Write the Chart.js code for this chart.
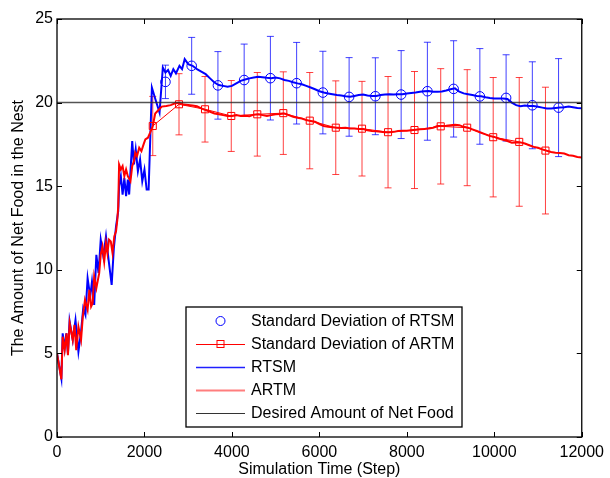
<!DOCTYPE html>
<html>
<head>
<meta charset="utf-8">
<script src="https://cdn.jsdelivr.net/npm/chart.js@4.4.1/dist/chart.umd.min.js"></script>
<style>
  html, body { margin: 0; padding: 0; background: #fff; }
</style>
</head>
<body>
<canvas id="foodChart" width="610" height="478"></canvas>
<script>
// Net food in the nest, RTSM vs ARTM

const xTicks = [0, 2000, 4000, 6000, 8000, 10000, 12000];
const yTicks = [0, 5, 10, 15, 20, 25];

const seriesLabels = [
    'Standard Deviation of RTSM',
    'Standard Deviation of ARTM',
    'RTSM',
    'ARTM',
    'Desired Amount of Net Food'
];

// RTSM mean curve
const rtsmX = [0, 100, 130, 175, 212, 250, 287, 360, 423, 490, 550, 600, 650, 700, 760, 800, 850, 900, 950,
    1000, 1060, 1120, 1180, 1250, 1300, 1350, 1400, 1420, 1460, 1500, 1540, 1580, 1620, 1650, 1720, 1760,
    1800, 1850, 1900, 1950, 2000, 2050, 2095, 2170, 2250, 2345, 2420, 2480, 2540, 2600, 2660, 2720, 2800,
    2860, 2920, 3000, 3100, 3200, 3300, 3400, 3500, 3600, 3700, 3800, 3900, 4000, 4100, 4200, 4300, 4400,
    4500, 4600, 4700, 4800, 4900, 5000, 5100, 5200, 5300, 5400, 5500, 5600, 5700, 5800, 5900, 6000, 6100,
    6200, 6300, 6400, 6500, 6600, 6700, 6800, 6900, 7000, 7100, 7200, 7300, 7400, 7500, 7600, 7700, 7800,
    7900, 8000, 8100, 8200, 8300, 8400, 8500, 8600, 8700, 8800, 8900, 9000, 9100, 9200, 9300, 9400, 9500,
    9600, 9700, 9800, 9900, 10000, 10100, 10200, 10300, 10400, 10500, 10600, 10700, 10800, 10900, 11000,
    11100, 11200, 11300, 11400, 11500, 11600, 11700, 11800, 11900, 12000];
const rtsmY = [5.0, 3.5, 6.2, 5.3, 6.2, 5.0, 6.95, 5.8, 7.0, 5.1, 6.3, 7.7, 7.3, 9.5, 8.4, 9.3, 7.9, 10.9, 9.8,
    11.8, 10.8, 12.0, 10.6, 9.1, 11.3, 12.6, 13.5, 15.0, 15.6, 14.5, 15.5, 14.4, 15.4, 14.5, 17.7, 16.3,
    17.2, 15.9, 16.6, 15.3, 16.0, 14.8, 14.8, 20.9, 20.2, 19.4, 22.1, 21.8, 21.95, 21.6, 22.0, 21.75, 22.2,
    22.0, 22.6, 22.3, 22.2, 22.0, 21.85, 21.7, 21.45, 21.2, 21.05, 21.0, 20.95, 21.0, 21.15, 21.3, 21.38, 21.45,
    21.5, 21.55, 21.52, 21.48, 21.45, 21.5, 21.45, 21.35, 21.3, 21.22, 21.15, 21.1, 21.0, 20.9, 20.8, 20.68, 20.6,
    20.55, 20.5, 20.45, 20.42, 20.38, 20.35, 20.4, 20.45, 20.48, 20.42, 20.4, 20.4, 20.45, 20.48, 20.5, 20.48, 20.5,
    20.5, 20.55, 20.58, 20.6, 20.65, 20.68, 20.7, 20.65, 20.65, 20.66, 20.72, 20.8, 20.85, 20.65, 20.55, 20.5, 20.45,
    20.4, 20.38, 20.32, 20.28, 20.25, 20.25, 20.25, 20.22, 20.0, 19.85, 19.78, 19.82, 19.8, 19.8, 19.75,
    19.7, 19.65, 19.65, 19.68, 19.7, 19.72, 19.76, 19.72, 19.68, 19.66];

// ARTM mean curve
const artmX = [0, 100, 130, 175, 220, 250, 290, 360, 400, 440, 490, 550, 590, 640, 700, 740, 780, 815, 850, 900,
    965, 1000, 1040, 1080, 1120, 1153, 1190, 1230, 1270, 1310, 1350, 1380, 1400, 1420, 1460, 1500, 1540, 1580,
    1620, 1680, 1720, 1760, 1790, 1830, 1880, 1930, 1980, 2020, 2080, 2130, 2190, 2246, 2300, 2395, 2500, 2600,
    2700, 2800, 2900, 3000, 3100, 3200, 3300, 3400, 3500, 3600, 3700, 3800, 3900, 4000, 4100, 4200, 4300, 4400,
    4500, 4600, 4700, 4800, 4900, 5000, 5100, 5200, 5300, 5400, 5500, 5600, 5700, 5800, 5900, 6000, 6100, 6200,
    6300, 6400, 6500, 6600, 6700, 6800, 6900, 7000, 7100, 7200, 7300, 7400, 7500, 7600, 7700, 7800, 7900, 8000,
    8100, 8200, 8300, 8400, 8500, 8600, 8700, 8800, 8900, 9000, 9100, 9200, 9300, 9400, 9500, 9600, 9700, 9800,
    9900, 10000, 10100, 10200, 10300, 10400, 10500, 10600, 10700, 10800, 10900, 11000, 11100, 11200, 11300,
    11400, 11500, 11600, 11700, 11800, 11900, 12000];
const artmY = [5.0, 3.45, 6.0, 5.2, 6.2, 4.9, 6.8, 5.8, 6.7, 5.2, 6.6, 5.8, 7.2, 8.2, 7.6, 8.8, 7.8, 8.0, 9.6, 8.9,
    9.8, 10.9, 11.4, 10.5, 11.6, 11.0, 11.8, 11.7, 11.0, 12.0, 12.3, 13.0, 13.8, 16.3, 16.0, 16.2, 15.6, 16.0,
    15.6, 15.3, 16.2, 16.5, 17.0, 16.8, 17.3, 17.1, 17.5, 17.8, 17.9, 18.2, 18.6, 19.35, 19.5, 19.76, 19.8, 19.85,
    19.96, 19.98, 19.88, 19.85, 19.82, 19.78, 19.65, 19.55, 19.45, 19.35, 19.3, 19.25, 19.2, 19.2, 19.25, 19.2, 19.22, 19.18,
    19.28, 19.3, 19.25, 19.2, 19.25, 19.3, 19.32, 19.35, 19.25, 19.15, 19.1, 19.05, 18.95, 18.9, 18.85, 18.72, 18.6, 18.55,
    18.52, 18.5, 18.48, 18.5, 18.45, 18.45, 18.42, 18.42, 18.35, 18.3, 18.28, 18.25, 18.22, 18.22, 18.25, 18.3, 18.32, 18.32,
    18.35, 18.38, 18.4, 18.42, 18.45, 18.5, 18.6, 18.6, 18.62, 18.65, 18.68, 18.65, 18.55, 18.5, 18.4, 18.3, 18.2, 18.1,
    18.0, 17.95, 17.85, 17.78, 17.7, 17.6, 17.62, 17.62, 17.55, 17.45, 17.35, 17.3, 17.2, 17.12, 17.05,
    17.0, 16.98, 16.95, 16.85, 16.82, 16.75, 16.72];

// standard deviation samples (circle / square markers)
const rtsmSdX = [2480, 3080, 3680, 4280, 4880, 5480, 6080, 6680, 7280, 7870, 8470, 9070, 9670, 10270, 10870, 11470];
const rtsmSdMean = [21.24, 22.2, 21.03, 21.35, 21.46, 21.16, 20.6, 20.34, 20.38, 20.48, 20.68, 20.82, 20.37, 20.28, 19.84, 19.7];
const rtsmSd = [1.0, 1.7, 2.02, 2.15, 2.5, 2.44, 2.47, 2.35, 2.3, 2.63, 2.93, 2.88, 2.86, 2.58, 2.6, 2.93];

const artmSdX = [2190, 2790, 3385, 3985, 4580, 5175, 5780, 6375, 6975, 7570, 8175, 8775, 9380, 9975, 10570, 11170];
const artmSdMean = [18.6, 19.9, 19.6, 19.2, 19.3, 19.37, 18.92, 18.5, 18.44, 18.23, 18.36, 18.58, 18.5, 17.93, 17.65, 17.13];
const artmSd = [1.77, 1.83, 1.96, 2.12, 2.5, 2.47, 2.88, 2.8, 2.83, 3.33, 3.5, 3.45, 3.47, 3.57, 3.85, 3.79];

const desiredX = [0, 12000];
const desiredY = [20, 20];

const BLUE = '#0000ff';
const RED = '#ff0000';
const FONT = "'Liberation Sans', Arial, Helvetica, sans-serif";

function toPoints(xs, ys) {
    return xs.map((x, i) => ({x: x, y: ys[i]}));
}

// lo / hi pairs, broken by a null so each bar is its own segment
function errorBarPoints(xs, mean, sd) {
    const pts = [];
    xs.forEach((x, i) => {
        pts.push({x: x, y: mean[i] - sd[i]}, {x: x, y: mean[i] + sd[i]}, {x: x, y: null});
    });
    return pts;
}

const TICK = 5;

const frameAndTicks = {
    id: 'frameAndTicks',
    afterDatasetsDraw(chart) {
        const {ctx, chartArea: a, scales: {x, y}} = chart;
        ctx.save();
        ctx.strokeStyle = '#000';
        ctx.lineWidth = 1;
        ctx.beginPath();
        xTicks.forEach(v => {
            const px = Math.round(x.getPixelForValue(v)) + 0.5;
            ctx.moveTo(px, a.bottom);
            ctx.lineTo(px, a.bottom - TICK);
            ctx.moveTo(px, a.top);
            ctx.lineTo(px, a.top + TICK);
        });
        yTicks.forEach(v => {
            const py = Math.round(y.getPixelForValue(v)) + 0.5;
            ctx.moveTo(a.left, py);
            ctx.lineTo(a.left + TICK, py);
            ctx.moveTo(a.right, py);
            ctx.lineTo(a.right - TICK, py);
        });
        ctx.stroke();
        ctx.lineWidth = 1.3;
        ctx.strokeRect(a.left, a.top, a.right - a.left, a.bottom - a.top);
        ctx.restore();
    }
};

// legend box drawn inside the plot, MATLAB style
const boxLegend = {
    id: 'boxLegend',
    afterDraw(chart) {
        const ctx = chart.ctx;
        const box = {left: 186, top: 307, right: 462, bottom: 427};
        const rowY = [321, 344, 367, 390, 413];
        const lineL = 196, lineR = 245, mid = 220.5, textX = 251;

        ctx.save();
        ctx.fillStyle = '#fff';
        ctx.fillRect(box.left, box.top, box.right - box.left, box.bottom - box.top);
        ctx.strokeStyle = '#000';
        ctx.lineWidth = 1.3;
        ctx.strokeRect(box.left, box.top, box.right - box.left, box.bottom - box.top);

        // row 1: circle only
        ctx.strokeStyle = BLUE;
        ctx.lineWidth = 1;
        ctx.beginPath();
        ctx.arc(mid, rowY[0], 4.5, 0, Math.PI * 2);
        ctx.stroke();

        // row 2: line + square
        ctx.strokeStyle = RED;
        ctx.beginPath();
        ctx.moveTo(lineL, rowY[1] + 0.5);
        ctx.lineTo(lineR, rowY[1] + 0.5);
        ctx.stroke();
        ctx.strokeRect(mid - 3.5, rowY[1] - 3.5, 7, 7);

        const plainLines = [
            {row: 2, color: '#2020ff', width: 1.4},
            {row: 3, color: 'rgba(255,40,40,0.6)', width: 2.2},
            {row: 4, color: '#333', width: 1}
        ];
        plainLines.forEach(l => {
            ctx.strokeStyle = l.color;
            ctx.lineWidth = l.width;
            ctx.beginPath();
            ctx.moveTo(lineL, rowY[l.row] + 0.5);
            ctx.lineTo(lineR, rowY[l.row] + 0.5);
            ctx.stroke();
        });

        ctx.fillStyle = '#000';
        ctx.font = '16px ' + FONT;
        ctx.textBaseline = 'middle';
        ctx.textAlign = 'left';
        seriesLabels.forEach((label, i) => {
            ctx.fillText(label, textX, rowY[i] + 1);
        });
        ctx.restore();
    }
};

const ctx = document.getElementById('foodChart').getContext('2d');

new Chart(ctx, {
    type: 'line',
    data: {
        datasets: [
            {
                label: seriesLabels[4],
                data: toPoints(desiredX, desiredY),
                borderColor: 'rgba(40,40,40,0.8)',
                borderWidth: 1.5,
                pointRadius: 0
            },
            {
                label: seriesLabels[1],
                data: toPoints(artmSdX, artmSdMean),
                borderColor: RED,
                borderWidth: 1,
                backgroundColor: 'rgba(0,0,0,0)',
                pointStyle: 'rect',
                pointRadius: 5,
                pointBorderWidth: 1
            },
            {
                label: seriesLabels[0],
                data: toPoints(rtsmSdX, rtsmSdMean),
                showLine: false,
                borderColor: BLUE,
                backgroundColor: 'rgba(0,0,0,0)',
                pointStyle: 'circle',
                pointRadius: 4.8,
                pointBorderWidth: 1
            },
            {
                label: seriesLabels[3],
                data: toPoints(artmX, artmY),
                borderColor: RED,
                borderWidth: 2,
                pointRadius: 0
            },
            {
                label: seriesLabels[2],
                data: toPoints(rtsmX, rtsmY),
                borderColor: BLUE,
                borderWidth: 2,
                pointRadius: 0
            },
            {
                label: 'artmErr',
                data: errorBarPoints(artmSdX, artmSdMean, artmSd),
                borderColor: 'rgba(255,0,0,0.75)',
                borderWidth: 1,
                spanGaps: false,
                pointStyle: 'line',
                pointRadius: 3.5,
                pointBorderWidth: 1
            },
            {
                label: 'rtsmErr',
                data: errorBarPoints(rtsmSdX, rtsmSdMean, rtsmSd),
                borderColor: 'rgba(0,0,255,0.75)',
                borderWidth: 1,
                spanGaps: false,
                pointStyle: 'line',
                pointRadius: 3.5,
                pointBorderWidth: 1
            }
        ]
    },
    options: {
        responsive: false,
        animation: false,
        devicePixelRatio: 1,
        layout: {
            padding: {top: 19, right: 22, left: 0, bottom: 0}
        },
        elements: {
            line: {tension: 0}
        },
        plugins: {
            legend: {display: false},
            tooltip: {enabled: false}
        },
        scales: {
            x: {
                type: 'linear',
                min: 0,
                max: 12000,
                afterBuildTicks: s => { s.ticks = xTicks.map(v => ({value: v})); },
                afterFit: s => { s.height = 41; },
                grid: {display: false, drawTicks: false},
                border: {display: false},
                ticks: {
                    color: '#000',
                    padding: 6,
                    maxRotation: 0,
                    font: {family: FONT, size: 16},
                    callback: v => String(v)
                },
                title: {
                    display: true,
                    text: 'Simulation Time (Step)',
                    color: '#000',
                    padding: {top: 0, bottom: 0},
                    font: {family: FONT, size: 16, lineHeight: 1}
                }
            },
            y: {
                type: 'linear',
                min: 0,
                max: 25,
                afterBuildTicks: s => { s.ticks = yTicks.map(v => ({value: v})); },
                afterFit: s => { s.width = 57; },
                grid: {display: false, drawTicks: false},
                border: {display: false},
                ticks: {
                    color: '#000',
                    padding: 4,
                    font: {family: FONT, size: 16},
                    callback: v => String(v)
                },
                title: {
                    display: true,
                    text: 'The Amount of Net Food in the Nest',
                    color: '#000',
                    padding: {top: 11, bottom: 0},
                    font: {family: FONT, size: 16, lineHeight: 1}
                }
            }
        }
    },
    plugins: [frameAndTicks, boxLegend]
});
</script>
</body>
</html>
